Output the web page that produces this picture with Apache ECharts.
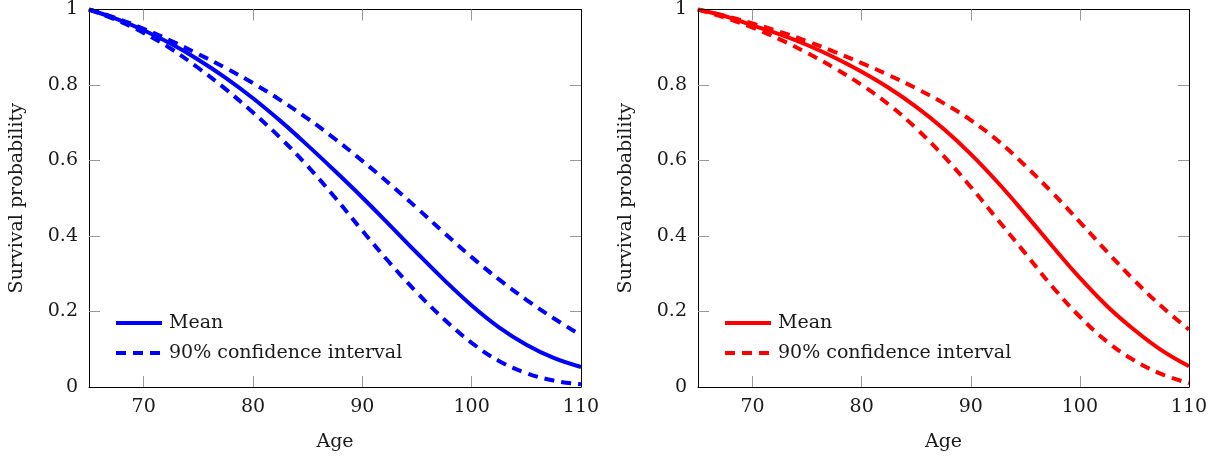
<!DOCTYPE html>
<html>
<head>
<meta charset="utf-8">
<script src="https://cdn.jsdelivr.net/npm/echarts@6/dist/echarts.min.js"></script>
<style>
html,body{margin:0;padding:0;background:#fff;}
#c{width:1215px;height:457px;}
</style>
</head>
<body>
<div id="c"></div>
<script>
const ages = [65,67.5,70,72.5,75,77.5,80,82.5,85,87.5,90,92.5,95,97.5,100,102.5,105,107.5,110];

const leftMean  = [1,0.975,0.945,0.909,0.867,0.819,0.765,0.705,0.640,0.572,0.502,0.429,0.355,0.283,0.216,0.158,0.112,0.077,0.053];
const leftUpper = [1,0.977,0.949,0.917,0.882,0.845,0.805,0.760,0.711,0.657,0.599,0.538,0.474,0.408,0.344,0.285,0.231,0.182,0.137];
const leftLower = [1,0.972,0.938,0.896,0.845,0.789,0.727,0.660,0.585,0.502,0.414,0.329,0.250,0.179,0.117,0.069,0.037,0.017,0.007];

const rightMean  = [1,0.982,0.958,0.934,0.906,0.873,0.835,0.792,0.742,0.684,0.617,0.541,0.458,0.372,0.289,0.214,0.151,0.097,0.055];
const rightUpper = [1,0.983,0.963,0.941,0.916,0.888,0.858,0.826,0.791,0.752,0.707,0.652,0.586,0.514,0.437,0.358,0.282,0.213,0.152];
const rightLower = [1,0.978,0.952,0.921,0.885,0.845,0.800,0.748,0.685,0.612,0.530,0.442,0.354,0.265,0.186,0.120,0.070,0.034,0.010];

const xLabels = [70,80,90,100,110];
const xTickMarks = [70,80,90,100];
const yTickMarks = [0.2,0.4,0.6,0.8];
const xName = 'Age';
const yName = 'Survival probability';
const meanName = 'Mean';
const ciName = '90% confidence interval';

const FONT = 'DejaVu Serif';
const TXT = '#1a1a1a';
const FS = 19;

function pair(arr){ return ages.map((a,i)=>[a,arr[i]]); }

const grids = [
  {left:89, top:9, width:492, height:378},
  {left:698, top:9, width:491, height:378}
];

const xAxes = [], yAxes = [];
grids.forEach((g,i)=>{
  const tick = {show:true, inside:true, length:11, lineStyle:{color:'#999', width:1}, customValues:xTickMarks};
  xAxes.push({
    gridIndex:i, type:'value', min:65, max:110, position:'bottom',
    name:xName, nameLocation:'middle', nameGap:46,
    nameTextStyle:{fontFamily:FONT, fontSize:FS, color:TXT},
    axisLine:{show:true, onZero:false, lineStyle:{color:'#000', width:1}},
    axisTick:tick,
    axisLabel:{customValues:xLabels, margin:11, fontFamily:FONT, fontSize:FS, color:TXT},
    splitLine:{show:false}, z:5
  });
  xAxes.push({
    gridIndex:i, type:'value', min:65, max:110, position:'top',
    axisLine:{show:true, onZero:false, lineStyle:{color:'#000', width:1}},
    axisTick:tick,
    axisLabel:{show:false},
    splitLine:{show:false}, z:5
  });
  const ytick = {show:true, inside:true, length:11, lineStyle:{color:'#999', width:1}, customValues:yTickMarks};
  yAxes.push({
    gridIndex:i, type:'value', min:0, max:1, interval:0.2, position:'left',
    name:yName, nameLocation:'middle', nameGap:62,
    nameTextStyle:{fontFamily:FONT, fontSize:FS, color:TXT},
    axisLine:{show:true, onZero:false, lineStyle:{color:'#000', width:1}},
    axisTick:ytick,
    axisLabel:{margin:11, fontFamily:FONT, fontSize:FS, color:TXT},
    splitLine:{show:false}, z:4
  });
  yAxes.push({
    gridIndex:i, type:'value', min:0, max:1, interval:0.2, position:'right',
    axisLine:{show:true, onZero:false, lineStyle:{color:'#000', width:1}},
    axisTick:ytick,
    axisLabel:{show:false},
    splitLine:{show:false}, z:4
  });
});

const DASH = [10,7];
function mk(name, data, color, xi, yi, dashed){
  return {
    type:'line', name:name, xAxisIndex:xi, yAxisIndex:yi,
    data:pair(data), smooth:0.4, showSymbol:false, symbol:'none',
    lineStyle:{color:color, width:4, type: dashed ? DASH : 'solid', cap:'butt'},
    itemStyle:{color:color},
    emphasis:{disabled:true}, animation:false, silent:true
  };
}

// right-panel series names carry a suffix so each legend links to its own colour
const R = ' (R)';
const series = [
  mk(meanName, leftMean, '#0000ff', 0, 0, false),
  mk(ciName, leftUpper, '#0000ff', 0, 0, true),
  mk(ciName, leftLower, '#0000ff', 0, 0, true),
  mk(meanName+R, rightMean, '#ff0000', 2, 2, false),
  mk(ciName+R, rightUpper, '#ff0000', 2, 2, true),
  mk(ciName+R, rightLower, '#ff0000', 2, 2, true)
];

function legend(left, names){
  return {
    left:left, top:313, orient:'vertical', padding:0,
    itemWidth:46, itemHeight:14, itemGap:10, selectedMode:false,
    itemStyle:{opacity:0, color:'rgba(0,0,0,0)', borderWidth:0},
    lineStyle:{width:4},
    data:names,
    formatter: n => n.replace(R,''),
    textStyle:{fontFamily:FONT, fontSize:FS, color:TXT, lineHeight:20, padding:[0,0,0,2]}
  };
}

const chart = echarts.init(document.getElementById('c'), null, {renderer:'canvas'});
chart.setOption({
  animation:false,
  backgroundColor:'#fff',
  grid:grids,
  xAxis:xAxes,
  yAxis:yAxes,
  legend:[legend(114, [meanName, ciName]), legend(723, [meanName+R, ciName+R])],
  series:series
});
</script>
</body>
</html>
